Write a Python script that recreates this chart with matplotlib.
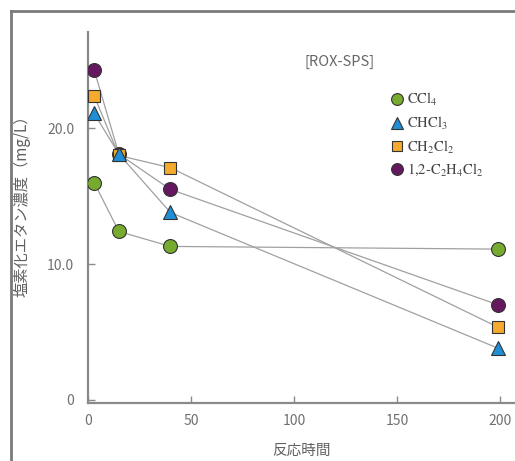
import matplotlib
matplotlib.use("Agg")
import matplotlib.pyplot as plt
from matplotlib.lines import Line2D

plt.rcParams['font.family'] = ['Noto Sans CJK JP', 'DejaVu Sans']
plt.rcParams['mathtext.fontset'] = 'stix'

# data
times = [3, 15, 40, 199]
ccl4 = [16.0, 12.4, 11.3, 11.1]
chcl3 = [21.1, 18.1, 13.8, 3.8]
ch2cl2 = [22.4, 18.0, 17.1, 5.35]
c2h4cl2 = [24.3, 18.1, 15.5, 7.0]

series = [
    (r'$\mathrm{CCl_4}$', ccl4, 'o', '#76ab2f', 10),
    (r'$\mathrm{CHCl_3}$', chcl3, '^', '#1e8fd6', 9.5),
    (r'$\mathrm{CH_2Cl_2}$', ch2cl2, 's', '#f4aa2c', 8.5),
    (r'$\mathrm{1{,}2\text{-}C_2H_4Cl_2}$', c2h4cl2, 'o', '#651860', 10),
]
draw_order = [0, 3, 2, 1]  # blue triangle ends up on top

W, H = 515, 461
fig = plt.figure(figsize=(W / 100, H / 100), dpi=100)
ax = fig.add_axes([88 / W, 58 / H, (W - 88) / W, (403 - 32) / H])

for z, i in enumerate(draw_order):
    label, vals, m, c, ms = series[i]
    ax.plot(times, vals, color='#a0a0a0', lw=0.9, zorder=2)
    ax.plot(times, vals, ls='none', marker=m, ms=ms, mfc=c, mec='#333333',
            mew=0.8, zorder=3 + z)

ax.set_xlim(0, 207.3)
ax.set_ylim(-0.24, 27.1)
ax.set_xticks([0, 50, 100, 150, 200])
ax.set_yticks([0, 10, 20])
ax.set_yticklabels(['0', '10.0', '20.0'])

for s in ['top', 'right']:
    ax.spines[s].set_visible(False)
for s in ['left', 'bottom']:
    ax.spines[s].set_color('#8a8a8a')
    ax.spines[s].set_linewidth(1.6)
ax.tick_params(direction='in', length=5, width=1, color='#8a8a8a',
               labelcolor='#707070', labelsize=10, pad=10)
ax.tick_params(axis='x', pad=8)

ax.set_xlabel('反応時間', fontsize=10.5, color='#606060', labelpad=11)
ax.set_ylabel('塩素化エタン濃度（mg/L）', fontsize=11, color='#606060')
ax.yaxis.set_label_coords(-0.135, 0.54)

fig.text(340 / W, 1 - 62 / H, '[ROX-SPS]', fontsize=10.5, color='#666666',
         ha='center', va='center')

handles = [Line2D([], [], ls='none', marker=m, ms=ms * 0.85, mfc=c,
                  mec='#333333', mew=0.8) for _, _, m, c, ms in series]
labels = [s[0] for s in series]
leg = ax.legend(handles, labels, loc='upper left', frameon=False,
                bbox_to_anchor=(378 / W, 1 - 78 / H),
                bbox_transform=fig.transFigure, fontsize=10.5,
                handlelength=0.8, handletextpad=0.3, labelspacing=0.45)
for t in leg.get_texts():
    t.set_color('#444444')

# cropped outer frame
fx, fy = 11 / W, 1 - 11 / H
fig.add_artist(Line2D([fx, fx], [0, fy], color='#7a7a7a', lw=2,
                      transform=fig.transFigure))
fig.add_artist(Line2D([fx, 1], [fy, fy], color='#7a7a7a', lw=2,
                      transform=fig.transFigure))

fig.savefig('out.png', dpi=100)
